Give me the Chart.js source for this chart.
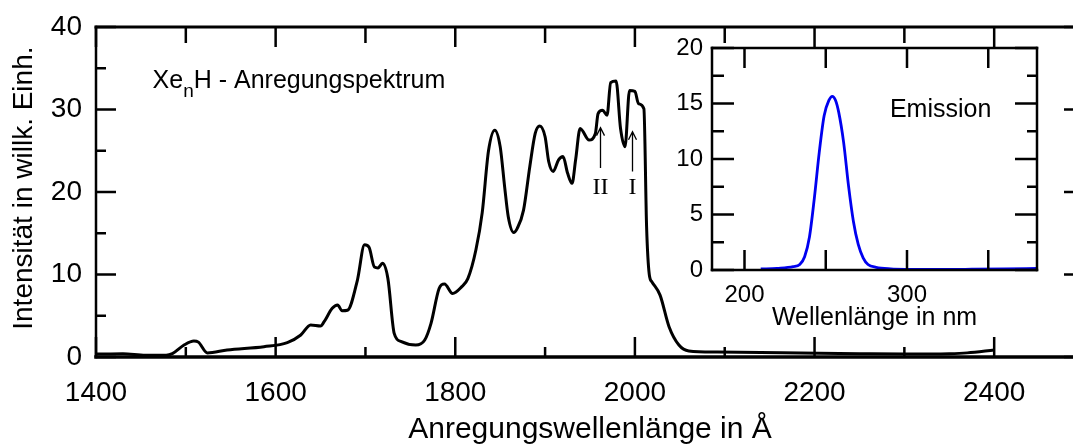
<!DOCTYPE html>
<html lang="de">
<head>
<meta charset="utf-8">
<title>XenH Anregungsspektrum</title>
<script src="https://cdn.jsdelivr.net/npm/chart.js@4"></script>
<style>
  html, body { margin: 0; padding: 0; background: #fff; overflow: hidden; }
  #wrap { position: relative; width: 1073px; height: 445px; overflow: hidden; }
  #main { position: absolute; left: 0; top: 0; }
  #inset { position: absolute; left: 640px; top: 30px; }
</style>
</head>
<body>
<div id="wrap">
  <canvas id="main" width="1090" height="445"></canvas>
  <canvas id="inset" width="410" height="310"></canvas>
</div>
<script>
// excitation spectrum (wavelength in Å, intensity arb. units)
const excitationWl = [1400, 1430, 1455, 1478, 1485, 1498, 1509, 1514, 1524, 1546, 1587, 1613, 1628, 1639, 1650, 1654,
  1663, 1669, 1674, 1680, 1691, 1699, 1704, 1710, 1714, 1719, 1725, 1732, 1740, 1756, 1766, 1773, 1782, 1788, 1797,
  1807, 1814, 1823, 1830, 1837, 1844, 1850, 1855, 1859, 1865, 1869, 1876, 1883, 1889, 1894, 1900, 1904, 1909, 1915,
  1920, 1925, 1930, 1934, 1939, 1949, 1956, 1959, 1964, 1969, 1973, 1979, 1984, 1989, 1994, 2000, 2004, 2010, 2013,
  2016, 2019, 2028, 2038, 2049, 2060, 2090, 2164, 2250, 2300, 2350, 2370, 2400];
const excitationInt = [0.35, 0.4, 0.2, 0.2, 0.4, 1.45, 1.94, 1.8, 0.5, 0.85, 1.25, 1.74, 2.67, 3.88, 3.76, 4.28,
  5.9, 6.3, 5.6, 5.66, 9.3, 13.6, 13.3, 10.9, 10.8, 11.35, 9.5, 2.87, 1.86, 1.45, 2.06, 4.08, 8.3, 8.85, 7.7,
  8.5, 9.5, 13.0, 17.5, 25.0, 27.5, 25.5, 20.6, 17.0, 15.1, 15.6, 17.8, 23.1, 27.1, 28.0, 26.7, 23.7, 22.5, 23.9,
  24.3, 22.3, 21.05, 23.9, 27.7, 26.3, 27.1, 29.5, 29.9, 29.3, 33.25, 33.45, 27.7, 25.5, 32.3, 32.2, 30.7, 30.1, 15.8,
  10.0, 9.1, 7.5, 3.67, 1.45, 0.73, 0.6, 0.52, 0.4, 0.35, 0.4, 0.5, 0.85];

// emission spectrum (wavelength in nm)
const emissionWl = [210, 220, 230, 234, 237, 240, 243, 246, 249, 252, 254, 256, 258, 261, 264, 267, 270, 273, 276,
  281, 290, 300, 320, 340, 360, 380];
const emissionInt = [0.09, 0.15, 0.3, 0.5, 1.2, 3.0, 6.5, 10.6, 13.9, 15.3, 15.65, 15.3, 14.2, 11.5, 7.6, 4.4, 2.3,
  1.1, 0.5, 0.24, 0.1, 0.06, 0.05, 0.07, 0.1, 0.15];

const mainXTicks = [1400, 1600, 1800, 2000, 2200, 2400];
const mainXMinor = [1500, 1700, 1900, 2100, 2300];
const mainYTicks = [0, 10, 20, 30, 40];
const mainYMinor = [5, 15, 25, 35];
const insetXTicks = [200, 300];
const insetXMinor = [250, 350];
const insetYTicks = [0, 5, 10, 15, 20];
const insetYMinor = [2.5, 7.5, 12.5, 17.5];

const SANS = '"Liberation Sans", Arial, Helvetica, sans-serif';
const SERIF = '"Liberation Serif", "Times New Roman", serif';
Chart.defaults.font.family = SANS;
Chart.defaults.color = '#000';

// box around the plot with inward ticks on all four sides
const frameTicks = {
  id: 'frameTicks',
  afterDraw(chart, args, o) {
    const { ctx, chartArea: a, scales: { x, y } } = chart;
    ctx.save();
    ctx.strokeStyle = '#000';
    ctx.lineWidth = o.tickWidth;
    ctx.beginPath();
    const xt = (vals, len) => vals.forEach(v => {
      const px = x.getPixelForValue(v);
      ctx.moveTo(px, a.bottom); ctx.lineTo(px, a.bottom - len.bottom);
      ctx.moveTo(px, a.top); ctx.lineTo(px, a.top + len.top);
    });
    const yt = (vals, len) => vals.forEach(v => {
      const py = y.getPixelForValue(v);
      ctx.moveTo(a.left, py); ctx.lineTo(a.left + len.left, py);
      ctx.moveTo(a.right, py); ctx.lineTo(a.right - len.right, py);
    });
    xt(o.xMajor, o.xMajorLen);
    xt(o.xMinor, o.xMinorLen);
    yt(o.yMajor, o.yMajorLen);
    yt(o.yMinor, o.yMinorLen);
    ctx.stroke();

    const edge = (x1, y1, x2, y2, w) => {
      ctx.lineWidth = w;
      ctx.beginPath(); ctx.moveTo(x1, y1); ctx.lineTo(x2, y2); ctx.stroke();
    };
    ctx.lineCap = 'square';
    edge(a.left, a.top, a.right, a.top, o.border.top);
    edge(a.right, a.top, a.right, a.bottom, o.border.right);
    edge(a.left, a.top, a.left, a.bottom, o.border.left);
    edge(a.left, a.bottom, a.right, a.bottom, o.border.bottom);
    ctx.restore();
  }
};

const mainNotes = {
  id: 'mainNotes',
  afterDraw(chart) {
    const { ctx, scales: { x, y } } = chart;
    ctx.save();
    ctx.fillStyle = '#000';
    ctx.strokeStyle = '#000';
    ctx.textBaseline = 'alphabetic';

    let px = x.getPixelForValue(1463);
    const py = y.getPixelForValue(32.6);
    ctx.font = '25px ' + SANS;
    ctx.fillText('Xe', px, py);
    px += ctx.measureText('Xe').width;
    ctx.font = '19px ' + SANS;
    ctx.fillText('n', px, py + 9);
    px += ctx.measureText('n').width;
    ctx.font = '25px ' + SANS;
    ctx.fillText('H - Anregungspektrum', px, py);

    const arrows = [
      { wl: 1961, from: 22.9, to: 27.8, label: 'II' },
      { wl: 1997, from: 22.5, to: 27.3, label: 'I' }
    ];
    ctx.lineWidth = 1.3;
    ctx.font = '24px ' + SERIF;
    ctx.textAlign = 'center';
    arrows.forEach(ar => {
      const ax = Math.round(x.getPixelForValue(ar.wl)) + 0.5;
      const y0 = y.getPixelForValue(ar.from);
      const y1 = y.getPixelForValue(ar.to);
      ctx.beginPath();
      ctx.moveTo(ax, y0); ctx.lineTo(ax, y1);
      ctx.moveTo(ax - 4, y1 + 8); ctx.lineTo(ax, y1); ctx.lineTo(ax + 4, y1 + 8);
      ctx.stroke();
      ctx.fillText(ar.label, ax, y.getPixelForValue(19.8));
    });
    ctx.restore();
  }
};

const insetNotes = {
  id: 'insetNotes',
  afterDraw(chart) {
    const { ctx, scales: { x, y } } = chart;
    ctx.save();
    ctx.fillStyle = '#000';
    ctx.font = '25px ' + SANS;
    ctx.textBaseline = 'alphabetic';
    ctx.fillText('Emission', x.getPixelForValue(289.5), y.getPixelForValue(13.75));
    ctx.restore();
  }
};

new Chart(document.getElementById('main'), {
  type: 'line',
  data: {
    datasets: [{
      data: excitationWl.map((w, i) => ({ x: w, y: excitationInt[i] })),
      borderColor: '#000',
      borderWidth: 3,
      pointRadius: 0,
      cubicInterpolationMode: 'monotone',
      fill: false
    }]
  },
  options: {
    responsive: false,
    animation: false,
    events: [],
    layout: { padding: { top: 27, right: 6, left: 0, bottom: 0 } },
    plugins: {
      legend: { display: false },
      tooltip: { enabled: false },
      frameTicks: {
        tickWidth: 2.5,
        xMajor: mainXTicks, xMinor: mainXMinor, yMajor: mainYTicks, yMinor: mainYMinor,
        xMajorLen: { top: 20, bottom: 20 }, xMinorLen: { top: 16, bottom: 10 },
        yMajorLen: { left: 20, right: 20 }, yMinorLen: { left: 10, right: 10 },
        border: { top: 3, right: 2.5, left: 2.5, bottom: 3.5 }
      }
    },
    scales: {
      x: {
        type: 'linear', min: 1400, max: 2500,
        grid: { display: false, drawTicks: false },
        border: { display: false },
        afterBuildTicks: s => { s.ticks = mainXTicks.map(v => ({ value: v })); },
        ticks: { font: { size: 28 }, padding: 19, maxRotation: 0, autoSkip: false, callback: v => String(v) },
        title: { display: true, text: 'Anregungswellenlänge in Å', font: { size: 30 }, padding: { top: 0, bottom: -3 } },
        afterFit: s => { s.height = 88; s.paddingLeft = 0; s.paddingRight = 0; }
      },
      y: {
        min: 0, max: 40,
        grid: { display: false, drawTicks: false },
        border: { display: false },
        afterBuildTicks: s => { s.ticks = mainYTicks.map(v => ({ value: v })); },
        ticks: { font: { size: 28 }, padding: 14, callback: v => String(v) },
        title: { display: true, text: ' Intensität in willk. Einh.', font: { size: 28 }, padding: { top: 7, bottom: 0 } },
        afterFit: s => { s.width = 96; s.paddingTop = 0; s.paddingBottom = 0; }
      }
    }
  },
  plugins: [frameTicks, mainNotes]
});

new Chart(document.getElementById('inset'), {
  type: 'line',
  data: {
    datasets: [{
      data: emissionWl.map((w, i) => ({ x: w, y: emissionInt[i] })),
      borderColor: '#0000f0',
      borderWidth: 2.8,
      pointRadius: 0,
      cubicInterpolationMode: 'monotone',
      fill: false
    }]
  },
  options: {
    responsive: false,
    animation: false,
    events: [],
    layout: { padding: { top: 18, right: 13, left: 0, bottom: 0 } },
    plugins: {
      legend: { display: false },
      tooltip: { enabled: false },
      frameTicks: {
        tickWidth: 2.5,
        xMajor: insetXTicks, xMinor: insetXMinor, yMajor: insetYTicks, yMinor: insetYMinor,
        xMajorLen: { top: 20, bottom: 20 }, xMinorLen: { top: 20, bottom: 20 },
        yMajorLen: { left: 22, right: 22 }, yMinorLen: { left: 12, right: 10 },
        border: { top: 2.5, right: 2.5, left: 2.5, bottom: 2.5 }
      }
    },
    scales: {
      x: {
        type: 'linear', min: 180, max: 380,
        grid: { display: false, drawTicks: false },
        border: { display: false },
        afterBuildTicks: s => { s.ticks = insetXTicks.map(v => ({ value: v })); },
        ticks: { font: { size: 24 }, padding: 11, maxRotation: 0, autoSkip: false, callback: v => String(v) },
        title: { display: true, text: 'Wellenlänge in nm', font: { size: 25 }, padding: { top: 0, bottom: 7 } },
        afterFit: s => { s.height = 70; s.paddingLeft = 0; s.paddingRight = 0; }
      },
      y: {
        min: 0, max: 20,
        grid: { display: false, drawTicks: false },
        border: { display: false },
        afterBuildTicks: s => { s.ticks = insetYTicks.map(v => ({ value: v })); },
        ticks: { font: { size: 24 }, padding: 9, callback: v => String(v) },
        afterFit: s => { s.width = 72; s.paddingTop = 0; s.paddingBottom = 0; }
      }
    }
  },
  plugins: [frameTicks, insetNotes]
});
</script>
</body>
</html>
